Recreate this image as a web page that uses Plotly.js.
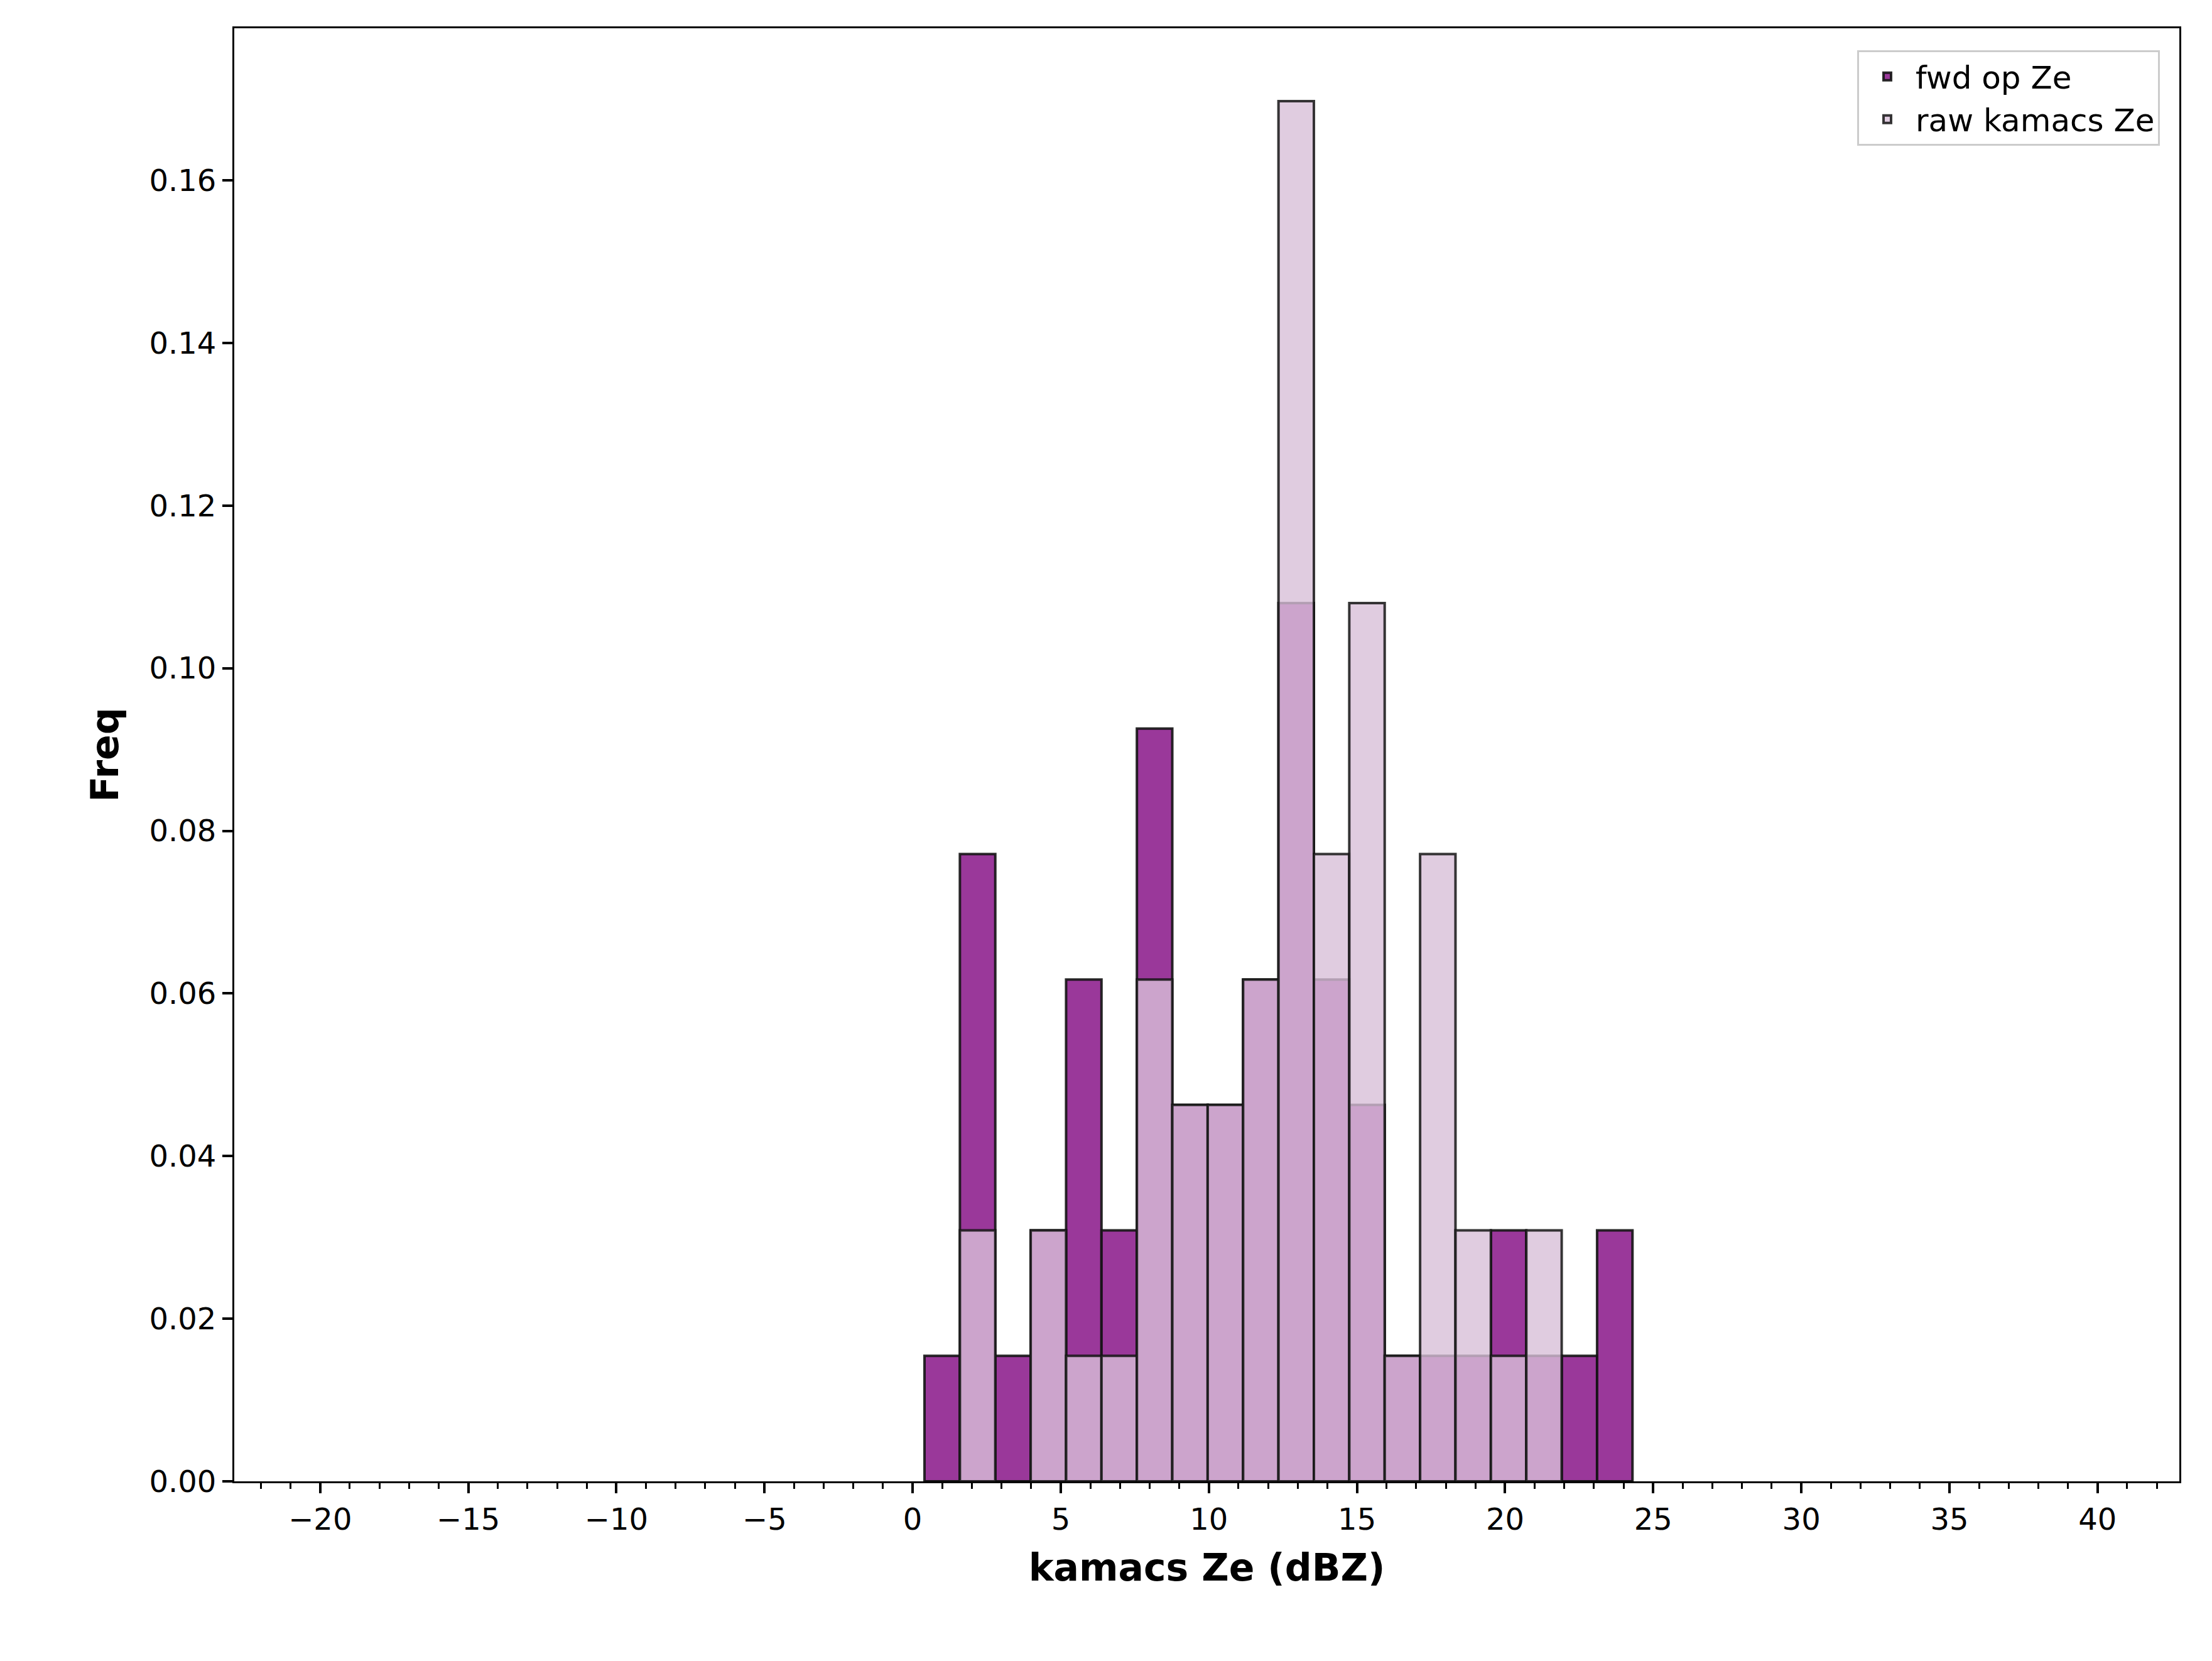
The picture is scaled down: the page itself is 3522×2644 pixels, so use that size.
<!DOCTYPE html>
<html>
<head>
<meta charset="utf-8">
<script src="https://cdn.plot.ly/plotly-3.0.1.min.js"></script>
<style>html,body{margin:0;padding:0;background:#fff}</style>
</head>
<body>
<div id="chart" style="width:3522px;height:2644px"></div>
<script>
// histogram bins (left edge 0.4, width 1.195)
const binStart = 0.4;
const binWidth = 1.195;
const unit = 0.01543; // one sample
const fwdCounts = [1,5,1,2,4,2,6,3,3,4,7,4,3,1,1,1,2,1,1,2];
const rawCounts = [0,2,0,2,1,1,4,3,3,4,11,5,7,1,5,2,1,2,0,0];

const centers = fwdCounts.map((c, i) => binStart + binWidth * (i + 0.5));

const data = [{
  type: 'bar', name: 'fwd op Ze',
  x: centers, y: fwdCounts.map(c => c * unit),
  width: binWidth,
  marker: {color: 'rgba(139,26,139,0.87)', line: {color: 'rgba(20,20,20,0.9)', width: 4}}
}, {
  type: 'bar', name: 'raw kamacs Ze',
  x: centers, y: rawCounts.map(c => c * unit),
  width: binWidth,
  marker: {color: 'rgba(216,191,216,0.8)', line: {color: 'rgba(20,20,20,0.85)', width: 4}}
}];

const font = {family: 'DejaVu Sans', color: '#000'};

const layout = {
  barmode: 'overlay',
  paper_bgcolor: '#fff', plot_bgcolor: '#fff',
  margin: {l: 373, r: 52, t: 45, b: 286},
  font: Object.assign({size: 48}, font),
  showlegend: true,
  legend: {
    x: 0.99, y: 0.985, xanchor: 'right', yanchor: 'top',
    bordercolor: '#ccc', borderwidth: 3, bgcolor: '#fff',
    font: {size: 50}, itemwidth: 80, tracegroupgap: 20
  },
  xaxis: {
    range: [-22.9, 42.76], tickmode: 'linear', tick0: 0, dtick: 5,
    ticks: 'outside', ticklen: 16, tickwidth: 4, tickcolor: '#000',
    minor: {dtick: 1, tick0: 0, ticks: 'outside', ticklen: 9, tickwidth: 3, tickcolor: '#000'},
    showgrid: false, zeroline: false, showline: true, linecolor: '#000', linewidth: 3, mirror: true,
    tickfont: {size: 48},
    title: {text: '<b>kamacs Ze (dBZ)</b>', font: {size: 60}, standoff: 30}
  },
  yaxis: {
    range: [0, 0.1787], tickmode: 'linear', tick0: 0, dtick: 0.02, tickformat: '.2f',
    ticks: 'outside', ticklen: 16, tickwidth: 4, tickcolor: '#000',
    showgrid: false, zeroline: false, showline: true, linecolor: '#000', linewidth: 3, mirror: true,
    tickfont: {size: 48},
    title: {text: '<b>Freq</b>', font: {size: 60}, standoff: 30}
  }
};

Plotly.newPlot('chart', data, layout, {displayModeBar: false});
</script>
</body>
</html>
